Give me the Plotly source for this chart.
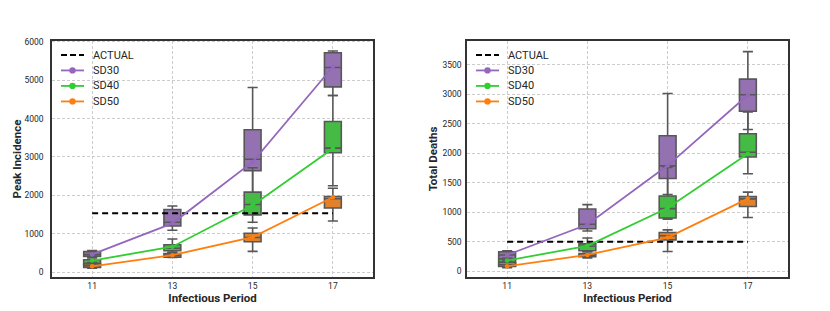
import plotly.graph_objects as go

periods = [11, 13, 15, 17]

# ---- Peak Incidence (left) ----
pk_sd30_lf = [380, 1090, 1820, 4600]
pk_sd30_q1 = [404, 1200, 2640, 4825]
pk_sd30_med = [455, 1300, 2940, 5330]
pk_sd30_q3 = [532, 1630, 3710, 5717]
pk_sd30_uf = [558, 1720, 4810, 5760]
pk_sd30_line = [460, 1270, 2870, 5350]

pk_sd40_lf = [140, 500, 1300, 2250]
pk_sd40_q1 = [172, 555, 1490, 3110]
pk_sd40_med = [231, 620, 1760, 3230]
pk_sd40_q3 = [319, 712, 2083, 3925]
pk_sd40_uf = [340, 860, 2720, 4600]
pk_sd40_line = [300, 660, 1740, 3220]

pk_sd50_lf = [100, 380, 540, 1330]
pk_sd50_q1 = [120, 386, 789, 1670]
pk_sd50_med = [165, 430, 900, 1910]
pk_sd50_q3 = [210, 480, 1010, 1970]
pk_sd50_uf = [250, 520, 1150, 2185]
pk_sd50_line = [150, 440, 910, 1950]

pk_actual_x = [11, 17]
pk_actual_y = [1530, 1530]

# ---- Total Deaths (right) ----
td_sd30_lf = [190, 680, 1300, 2400]
td_sd30_q1 = [207, 720, 1570, 2710]
td_sd30_med = [273, 795, 1785, 2990]
td_sd30_q3 = [330, 1055, 2295, 3255]
td_sd30_uf = [345, 1128, 3012, 3720]
td_sd30_line = [275, 790, 1790, 2985]

td_sd40_lf = [80, 340, 880, 1650]
td_sd40_q1 = [90, 345, 900, 1935]
td_sd40_med = [150, 423, 1060, 2015]
td_sd40_q3 = [207, 462, 1273, 2330]
td_sd40_uf = [220, 562, 1760, 2700]
td_sd40_line = [180, 430, 1070, 1990]

td_sd50_lf = [60, 225, 333, 910]
td_sd50_q1 = [80, 245, 530, 1095]
td_sd50_med = [110, 270, 600, 1225]
td_sd50_q3 = [150, 300, 655, 1265]
td_sd50_uf = [180, 330, 700, 1340]
td_sd50_line = [85, 275, 570, 1230]

td_actual_x = [11, 17]
td_actual_y = [500, 500]

legend_labels = ["ACTUAL", "SD30", "SD40", "SD50"]
series_names = ["SD30", "SD40", "SD50"]
line_colors = ["#9467bd", "#32cd32", "#ff7f0e"]
box_colors = ["#9472b2", "#45ba45", "#e1812c"]
edge = "#575757"
FONT = "Roboto"

fig = go.Figure()

def add_panel(xa, ya, boxes, lines, actual_x, actual_y):
    for (lf, q1, med, q3, uf), bc in zip(boxes, box_colors):
        fig.add_trace(go.Box(
            x=periods, lowerfence=lf, q1=q1, median=med, q3=q3, upperfence=uf,
            width=0.42, whiskerwidth=0.6, fillcolor=bc,
            line=dict(color=edge, width=1.6), boxpoints=False,
            showlegend=False, hoverinfo="skip", xaxis=xa, yaxis=ya))
    fig.add_trace(go.Scatter(
        x=actual_x, y=actual_y, mode="lines", name="ACTUAL",
        line=dict(color="black", width=2, dash="6px,4px"),
        xaxis=xa, yaxis=ya, showlegend=False))
    for vals, name, c in zip(lines, series_names, line_colors):
        fig.add_trace(go.Scatter(
            x=periods, y=vals, mode="lines+markers", name=name,
            line=dict(color=c, width=1.8), marker=dict(color=c, size=4.5),
            xaxis=xa, yaxis=ya, showlegend=False))

add_panel("x", "y",
          [(pk_sd30_lf, pk_sd30_q1, pk_sd30_med, pk_sd30_q3, pk_sd30_uf),
           (pk_sd40_lf, pk_sd40_q1, pk_sd40_med, pk_sd40_q3, pk_sd40_uf),
           (pk_sd50_lf, pk_sd50_q1, pk_sd50_med, pk_sd50_q3, pk_sd50_uf)],
          [pk_sd30_line, pk_sd40_line, pk_sd50_line], pk_actual_x, pk_actual_y)
add_panel("x2", "y2",
          [(td_sd30_lf, td_sd30_q1, td_sd30_med, td_sd30_q3, td_sd30_uf),
           (td_sd40_lf, td_sd40_q1, td_sd40_med, td_sd40_q3, td_sd40_uf),
           (td_sd50_lf, td_sd50_q1, td_sd50_med, td_sd50_q3, td_sd50_uf)],
          [td_sd30_line, td_sd40_line, td_sd50_line], td_actual_x, td_actual_y)

W, H = 830, 311
PW, PH = 321.0, 240.0  # plot area size in px

# manual legends (compact row spacing like the reference)
shapes, annotations = [], []
row_offsets = [14.7, 30.3, 46.0, 61.7]
leg_colors = ["black"] + line_colors
for xa, ya in [("x", "y"), ("x2", "y2")]:
    xr, yr = xa + " domain", ya + " domain"
    for lab, col, off in zip(legend_labels, leg_colors, row_offsets):
        yy = 1 - off / PH
        if lab == "ACTUAL":
            shapes.append(dict(type="line", xref=xr, yref=yr, x0=9 / PW, x1=32 / PW, y0=yy, y1=yy,
                               line=dict(color=col, width=2, dash="6px,3px")))
        else:
            shapes.append(dict(type="line", xref=xr, yref=yr, x0=9 / PW, x1=32 / PW, y0=yy, y1=yy,
                               line=dict(color=col, width=1.8)))
            r = 3.2
            shapes.append(dict(type="circle", xref=xr, yref=yr,
                               x0=(20.5 - r) / PW, x1=(20.5 + r) / PW,
                               y0=yy - r / PH, y1=yy + r / PH,
                               fillcolor=col, line=dict(color=col, width=0)))
        annotations.append(dict(xref=xr, yref=yr, x=39 / PW, y=yy, text=lab, showarrow=False,
                                xanchor="left", yanchor="middle",
                                font=dict(family=FONT, size=11, color="#262626")))

tickfont = dict(family=FONT, size=8.5, color="#262626")
titlefont = dict(family=FONT, size=11.5, color="#262626", weight="bold")
common_axis = dict(showline=True, linecolor="#333333", linewidth=1.5, mirror=True,
                   showgrid=True, gridcolor="#cccccc", gridwidth=0.8, griddash="3px,2px",
                   zeroline=False, ticks="", tickfont=tickfont)

xdom1 = [52 / W, 373 / W]
xdom2 = [467 / W, 788 / W]
ydom = [34 / H, 274 / H]

fig.update_layout(
    width=W, height=H, margin=dict(l=0, r=0, t=0, b=0),
    paper_bgcolor="white", plot_bgcolor="white", boxmode="overlay",
    showlegend=False, shapes=shapes, annotations=annotations,
    xaxis=dict(domain=xdom1, anchor="y", range=[10, 18], tickvals=periods,
               title=dict(text="Infectious Period", font=titlefont, standoff=3), **common_axis),
    yaxis=dict(domain=ydom, anchor="x", range=[-140, 6034], tickvals=[0, 1000, 2000, 3000, 4000, 5000, 6000],
               ticklabelstandoff=5,
               title=dict(text="Peak Incidence", font=titlefont, standoff=0), **common_axis),
    xaxis2=dict(domain=xdom2, anchor="y2", range=[10, 18], tickvals=periods,
                title=dict(text="Infectious Period", font=titlefont, standoff=3), **common_axis),
    yaxis2=dict(domain=ydom, anchor="x2", range=[-106, 3909],
                tickvals=[0, 500, 1000, 1500, 2000, 2500, 3000, 3500],
                ticklabelstandoff=2,
                title=dict(text="Total Deaths", font=titlefont, standoff=2), **common_axis),
)

fig.write_html("out.html", post_script="document.body.style.margin='0px';",
               config={"displayModeBar": False})
